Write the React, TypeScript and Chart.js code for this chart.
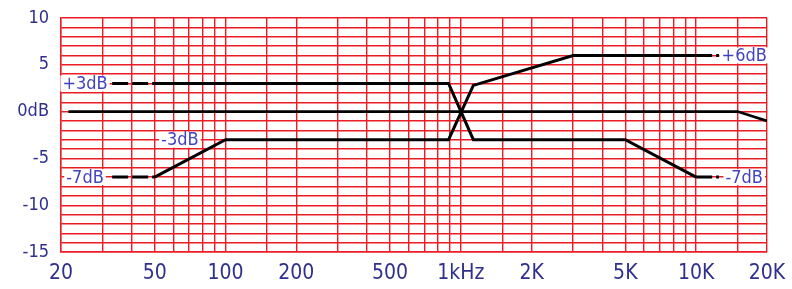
import React, { useEffect, useRef } from 'react';
import { Chart, registerables } from 'chart.js';

Chart.register(...registerables);

// Frequency grid (Hz) and tick labels
const GRID_FREQS = [20, 30, 40, 50, 60, 70, 80, 90, 100, 150, 200, 300, 400, 500, 600, 700, 800, 900, 1000, 1500, 2000, 3000, 4000, 5000, 6000, 7000, 8000, 9000, 10000, 15000, 20000];
const GRID_DB = [10, 9, 8, 7, 6, 5, 4, 3, 2, 1, 0, -1, -2, -3, -4, -5, -6, -7, -8, -9, -10, -11, -12, -13, -14, -15];
const X_TICK_VALUES = [20, 50, 100, 200, 500, 1000, 2000, 5000, 10000, 20000];
const X_TICK_TEXT = ['20', '50', '100', '200', '500', '1kHz', '2K', '5K', '10K', '20K'];
const Y_TICK_VALUES = [10, 5, 0, -5, -10, -15];
const Y_TICK_TEXT = ['10', '5', '0dB', '-5', '-10', '-15'];

// Flat response
const FLAT_FREQ = [21.5, 15000, 20000];
const FLAT_DB = [0, 0, -1];

// Curve A: bass +3 dB, treble -7 dB
const CURVE_A_FREQ = [50, 887, 1130, 5000, 10000];
const CURVE_A_DB = [3, 3, -3, -3, -7];

// Curve B: bass -7 dB, treble +6 dB
const CURVE_B_FREQ = [50, 100, 887, 1130, 3000, 10000];
const CURVE_B_DB = [-7, -3, -3, 2.8, 6, 6];

// Dashed extensions
const EXT_LOW_FREQ = [33, 50];
const EXT_HIGH_FREQ = [10000, 12500];
const EXT_A_LOW_DB = [3, 3];
const EXT_B_LOW_DB = [-7, -7];
const EXT_A_HIGH_DB = [-7, -7];
const EXT_B_HIGH_DB = [6, 6];

// Annotations
const NOTE_TEXT = ['+3dB', '-3dB', '-7dB', '+6dB', '-7dB'];
const NOTE_FREQ = [25.3, 64, 25.3, 16000, 16000];
const NOTE_DB = [3, -3, -7, 6, -7];

const RED = '#ec1c24';
const TICK_BLUE = '#2f2f8c';
const NOTE_BLUE = '#4242c0';
const FONT = '"Liberation Sans Narrow", "DejaVu Sans Condensed", sans-serif';

const pts = (xs: number[], ys: number[]) => xs.map((x, i) => ({ x, y: ys[i] }));

const solid = (data: any, w = 3) => ({
  data,
  borderColor: '#000',
  backgroundColor: '#000',
  borderWidth: w,
  showLine: true,
  pointRadius: 0,
  fill: false,
  tension: 0,
});
const dashed = (data: any) => ({ ...solid(data), borderDash: [16, 4] });

const notesPlugin = {
  id: 'notes',
  afterDatasetsDraw(chart: any) {
    const ctx = chart.ctx;
    const xs = chart.scales.x;
    const ys = chart.scales.y;
    ctx.save();
    ctx.font = `18px ${FONT}`;
    ctx.textAlign = 'center';
    ctx.textBaseline = 'middle';
    NOTE_TEXT.forEach((t, i) => {
      const px = xs.getPixelForValue(NOTE_FREQ[i]);
      const py = ys.getPixelForValue(NOTE_DB[i]);
      const w = ctx.measureText(t).width;
      ctx.fillStyle = '#fff';
      ctx.fillRect(px - w / 2 - 2, py - 8, w + 4, 16);
      ctx.fillStyle = NOTE_BLUE;
      ctx.fillText(t, px, py + 1);
    });
    ctx.restore();
  },
};

export default function App() {
  const ref = useRef<HTMLCanvasElement>(null);
  useEffect(() => {
    if (!ref.current) return;
    const chart = new Chart(ref.current, {
      type: 'scatter',
      data: {
        datasets: [
          solid(pts(FLAT_FREQ, FLAT_DB), 2.6),
          solid(pts(CURVE_A_FREQ, CURVE_A_DB)),
          solid(pts(CURVE_B_FREQ, CURVE_B_DB)),
          dashed(pts(EXT_LOW_FREQ, EXT_A_LOW_DB)),
          dashed(pts(EXT_LOW_FREQ, EXT_B_LOW_DB)),
          dashed(pts(EXT_HIGH_FREQ, EXT_A_HIGH_DB)),
          dashed(pts(EXT_HIGH_FREQ, EXT_B_HIGH_DB)),
        ] as any,
      },
      options: {
        animation: false,
        responsive: false,
        layout: { padding: { top: 18, right: 25, left: 0, bottom: 0 } },
        plugins: { legend: { display: false }, tooltip: { enabled: false } },
        scales: {
          x: {
            type: 'logarithmic',
            min: 20,
            max: 20000,
            afterBuildTicks: (scale: any) => {
              scale.ticks = GRID_FREQS.map((v) => ({ value: v }));
            },
            afterFit: (scale: any) => {
              scale.height = 37;
              scale.paddingLeft = 0;
              scale.paddingRight = 0;
            },
            grid: { color: RED, lineWidth: 1.4, drawTicks: false },
            border: { color: RED, width: 1.4 },
            ticks: {
              autoSkip: false,
              maxRotation: 0,
              padding: 9,
              color: TICK_BLUE,
              font: { family: FONT, size: 21 },
              callback: (v: any) => {
                const i = X_TICK_VALUES.indexOf(Number(v));
                return i >= 0 ? X_TICK_TEXT[i] : '';
              },
            },
          },
          y: {
            type: 'linear',
            min: -15,
            max: 10,
            afterBuildTicks: (scale: any) => {
              scale.ticks = GRID_DB.map((v) => ({ value: v }));
            },
            afterFit: (scale: any) => {
              scale.width = 61;
              scale.paddingTop = 0;
              scale.paddingBottom = 0;
            },
            grid: { color: RED, lineWidth: 1.4, drawTicks: false },
            border: { color: RED, width: 1.4 },
            ticks: {
              autoSkip: false,
              padding: 12,
              color: TICK_BLUE,
              font: { family: FONT, size: 18 },
              callback: (v: any) => {
                const i = Y_TICK_VALUES.indexOf(Number(v));
                return i >= 0 ? Y_TICK_TEXT[i] : '';
              },
            },
          },
        },
      },
      plugins: [notesPlugin],
    } as any);
    return () => chart.destroy();
  }, []);
  return (
    <div style={{ position: 'absolute', left: 0, top: 0, width: 792, height: 289, background: '#fff' }}>
      <canvas ref={ref} width={792} height={289} />
    </div>
  );
}
